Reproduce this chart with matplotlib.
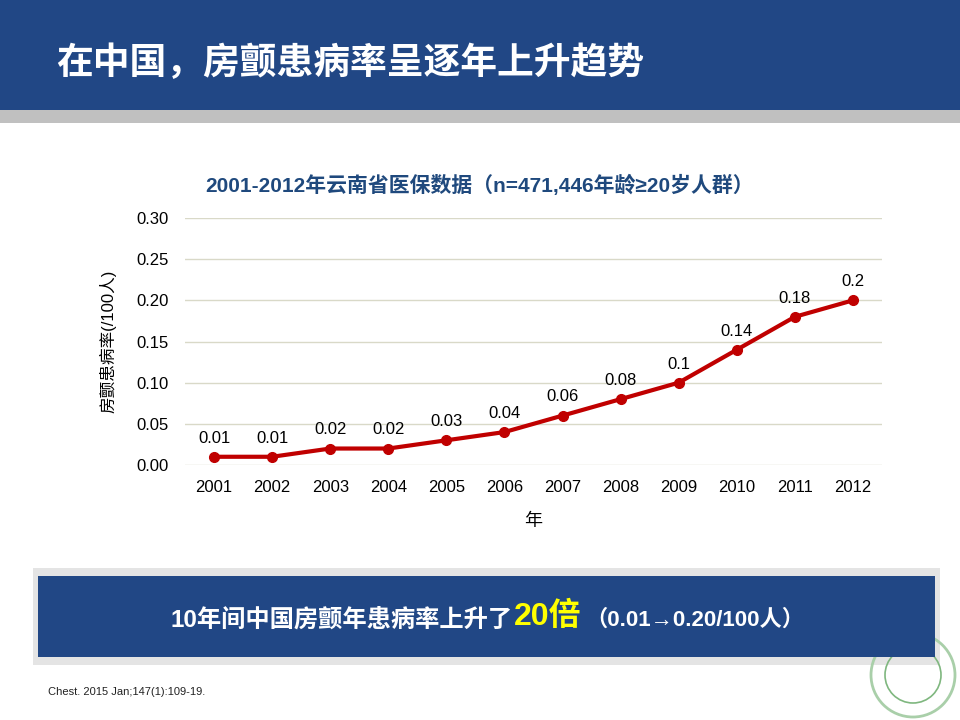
import matplotlib
matplotlib.use("Agg")
import matplotlib.pyplot as plt
from matplotlib.patches import Rectangle, Ellipse

plt.rcParams["font.family"] = ["Liberation Sans", "Noto Sans CJK SC", "DejaVu Sans"]

# ------------------------------------------------------------ #
# Data
# ------------------------------------------------------------ #
years = ["2001", "2002", "2003", "2004", "2005", "2006",
         "2007", "2008", "2009", "2010", "2011", "2012"]
rates = [0.01, 0.01, 0.02, 0.02, 0.03, 0.04, 0.06, 0.08, 0.1, 0.14, 0.18, 0.2]
rate_labels = ["0.01", "0.01", "0.02", "0.02", "0.03", "0.04",
               "0.06", "0.08", "0.1", "0.14", "0.18", "0.2"]
y_ticks = [0.0, 0.05, 0.10, 0.15, 0.20, 0.25, 0.30]

slide_title = "在中国，房颤患病率呈逐年上升趋势"
chart_title = "2001-2012年云南省医保数据（n=471,446年龄≥20岁人群）"
y_label = "房颤患病率(/100人)"
x_label = "年"
box_parts = ["10年间中国房颤年患病率上升了", "20倍", "（0.01→0.20/100人）"]
citation = "Chest. 2015 Jan;147(1):109-19."

BLUE = "#214785"
RED = "#c00000"
W, H = 960, 720


def fx(px):
    return px / W


def fy(py):
    return 1 - py / H


fig = plt.figure(figsize=(9.6, 7.2), dpi=100)
fig.patch.set_facecolor("white")

# ------------------------------------------------------------ #
# Header band
# ------------------------------------------------------------ #
fig.patches.append(Rectangle((0, fy(110)), 1, 110 / H, transform=fig.transFigure,
                             facecolor=BLUE, edgecolor="none", zorder=0))
fig.patches.append(Rectangle((0, fy(123)), 1, 13 / H, transform=fig.transFigure,
                             facecolor="#c0c0c0", edgecolor="none", zorder=0))
fig.text(fx(56), fy(64), slide_title, color="white", fontsize=26.5, fontweight="bold",
         family=["Noto Sans CJK SC", "DejaVu Sans"], va="center", ha="left")

# ------------------------------------------------------------ #
# Line chart
# ------------------------------------------------------------ #
ax = fig.add_axes([fx(185), fy(465), fx(882) - fx(185), (465 - 218) / H])
x = list(range(len(years)))
ax.plot(x, rates, color=RED, linewidth=3, marker="o", markersize=7,
        markerfacecolor=RED, markeredgecolor=RED, zorder=3)
for xi, v, lab in zip(x, rates, rate_labels):
    ax.annotate(lab, (xi, v), xytext=(0, 8), textcoords="offset points",
                ha="center", va="bottom", fontsize=12, color="black")

ax.set_xlim(-0.5, len(years) - 0.5)
ax.set_ylim(0, 0.30)
ax.set_yticks(y_ticks)
ax.set_yticklabels([f"{t:.2f}" for t in y_ticks], fontsize=12)
ax.set_xticks(x)
ax.set_xticklabels(years, fontsize=12)
ax.tick_params(length=0, pad=12)
ax.tick_params(axis="x", pad=11)
ax.grid(axis="y", color="#d9d9c8", linewidth=1)
ax.set_axisbelow(True)
for sp in ax.spines.values():
    sp.set_visible(False)
ax.set_ylabel(y_label, fontsize=12, labelpad=14)
ax.set_xlabel(x_label, fontsize=13, labelpad=13)

fig.text(0.5, fy(185), chart_title, color="#1f497d", fontsize=15,
         fontweight="bold", ha="center", va="center")

# ------------------------------------------------------------ #
# Summary box
# ------------------------------------------------------------ #
fig.patches.append(Rectangle((fx(33), fy(665)), fx(940) - fx(33), 97 / H,
                             transform=fig.transFigure, facecolor="#e4e4e4",
                             edgecolor="none", zorder=0))
fig.patches.append(Rectangle((fx(38), fy(657)), fx(935) - fx(38), 81 / H,
                             transform=fig.transFigure, facecolor=BLUE,
                             edgecolor="none", zorder=1))
t1 = fig.text(fx(170), fy(620), box_parts[0], color="white", fontsize=17.5,
              fontweight="bold", ha="left", va="center", zorder=2)
t2 = fig.text(0, 0, box_parts[1], color="#ffff00", fontsize=23, fontweight="bold",
              ha="left", va="center", zorder=2)
t3 = fig.text(0, 0, box_parts[2], color="white", fontsize=16, fontweight="bold",
              ha="left", va="center", zorder=2)
fig.canvas.draw()
r = fig.canvas.get_renderer()
e1 = t1.get_window_extent(r)
t2.set_position((e1.x1 / W + 0.002, fy(617)))
fig.canvas.draw()
e2 = t2.get_window_extent(r)
t3.set_position((e2.x1 / W + 0.004, fy(620)))

# ------------------------------------------------------------ #
# Citation and logo
# ------------------------------------------------------------ #
fig.text(fx(48), fy(692), citation, fontsize=8, color="#222222", ha="left", va="center")
fig.patches.append(Ellipse((fx(913), fy(675)), 84 / W, 84 / H, transform=fig.transFigure,
                           facecolor="none", edgecolor="#a9cfa9", linewidth=2, zorder=0))
fig.patches.append(Ellipse((fx(913), fy(675)), 56 / W, 56 / H, transform=fig.transFigure,
                           facecolor="none", edgecolor="#7fb77f", linewidth=1.2, zorder=0))

fig.savefig("out.png", dpi=100)
